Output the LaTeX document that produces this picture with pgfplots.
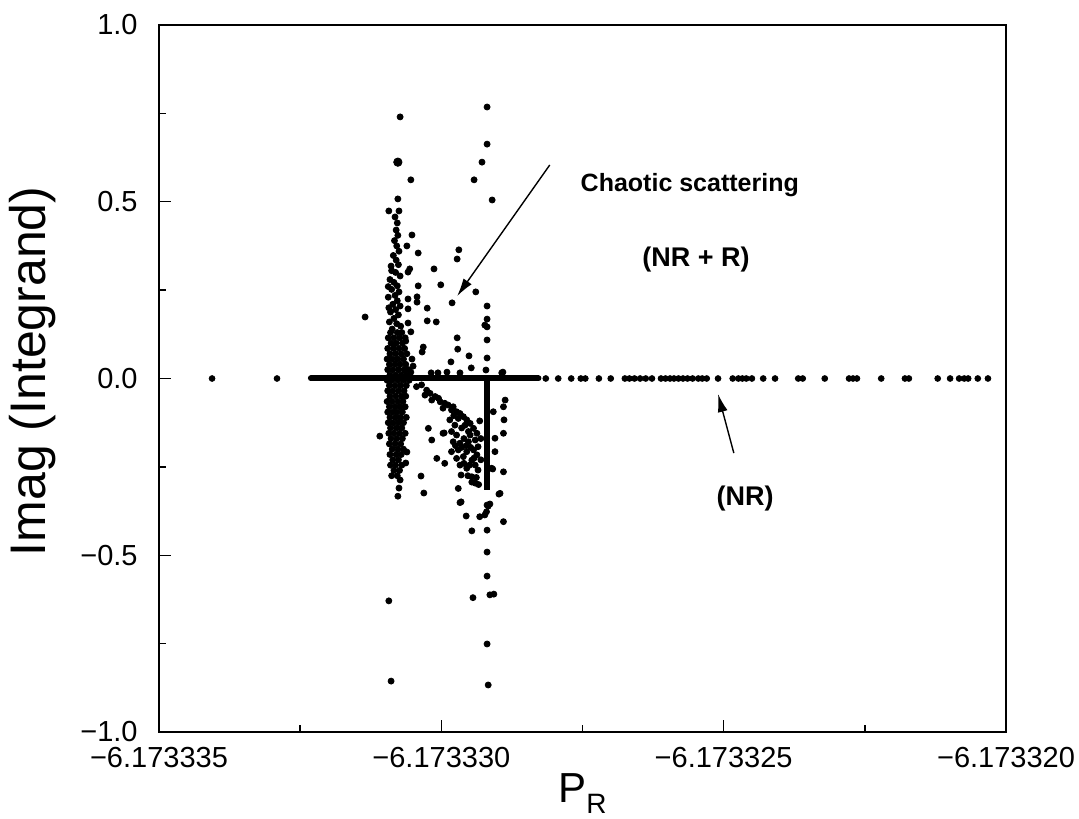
\documentclass[border=0pt]{standalone}
\usepackage{pgfplots}
\pgfplotsset{compat=1.18}
\usepackage{pgfplotstable}
\usetikzlibrary{arrows.meta}
\usepackage{fontspec}
\setmainfont{Liberation Sans}

% x is given as (P_R + 6.173335) * 1e6
\pgfplotstableread{
x y
0.94 0
2.09 0
6.85 0
7.07 0
7.30 0
7.47 0
7.55 0
7.79 0
8.00 0
8.25 0
8.33 0
8.42 0
8.52 0
8.62 0
8.73 0
8.89 0
8.97 0
9.05 0
9.12 0
9.20 0
9.28 0
9.36 0
9.45 0
9.55 0
9.62 0
9.70 0
9.90 0
10.16 0
10.26 0
10.33 0
10.40 0
10.50 0
10.70 0
10.91 0
11.32 0
11.40 0
11.79 0
12.22 0
12.29 0
12.36 0
12.79 0
13.21 0
13.28 0
13.79 0
14.01 0
14.17 0
14.26 0
14.33 0
14.50 0
14.68 0
}\lineNR

\pgfplotstableread{
x y
4.27 0.740
4.46 0.562
4.23 0.508
4.07 0.474
4.25 0.474
4.18 0.457
4.22 0.440
4.20 0.420
4.23 0.405
4.17 0.390
4.21 0.375
4.25 0.360
4.15 0.348
4.20 0.335
4.24 0.322
4.11 0.318
4.12 0.305
4.19 0.300
4.27 0.290
4.09 0.280
4.16 0.272
4.22 0.262
4.06 0.260
4.12 0.252
4.25 0.245
4.18 0.235
4.06 0.230
4.22 0.220
4.14 0.210
4.27 0.205
4.07 0.200
4.19 0.195
4.10 0.188
4.24 0.180
4.16 0.170
4.08 0.160
4.21 0.155
4.28 0.148
4.13 0.140
4.10 0.130
4.22 0.130
4.30 0.130
4.06 0.115
4.16 0.115
4.26 0.115
4.36 0.115
4.11 0.100
4.20 0.100
4.31 0.100
4.05 0.085
4.15 0.085
4.25 0.085
4.35 0.085
4.09 0.070
4.19 0.070
4.29 0.070
4.39 0.070
4.04 0.055
4.13 0.055
4.23 0.055
4.33 0.055
4.08 0.040
4.18 0.040
4.27 0.040
4.37 0.040
4.05 0.025
4.14 0.025
4.24 0.025
4.34 0.025
4.42 0.025
4.09 0.010
4.19 0.010
4.29 0.010
4.39 0.010
4.04 -0.005
4.13 -0.005
4.23 -0.005
4.33 -0.005
4.43 -0.005
4.08 -0.020
4.18 -0.020
4.28 -0.020
4.38 -0.020
4.05 -0.035
4.14 -0.035
4.24 -0.035
4.34 -0.035
4.09 -0.050
4.19 -0.050
4.29 -0.050
4.37 -0.050
4.04 -0.065
4.13 -0.065
4.23 -0.065
4.32 -0.065
4.08 -0.080
4.18 -0.080
4.27 -0.080
4.36 -0.080
4.05 -0.095
4.14 -0.095
4.22 -0.095
4.31 -0.095
4.09 -0.110
4.19 -0.110
4.28 -0.110
4.38 -0.110
4.06 -0.125
4.15 -0.125
4.24 -0.125
4.33 -0.125
4.10 -0.140
4.20 -0.140
4.30 -0.140
4.07 -0.155
4.16 -0.155
4.26 -0.155
4.36 -0.155
4.11 -0.170
4.21 -0.170
4.31 -0.170
4.08 -0.185
4.18 -0.185
4.28 -0.185
4.13 -0.200
4.23 -0.200
4.33 -0.200
4.09 -0.215
4.20 -0.215
4.29 -0.215
4.14 -0.230
4.24 -0.230
4.10 -0.245
4.19 -0.245
4.30 -0.245
4.16 -0.260
4.26 -0.260
4.12 -0.275
4.22 -0.275
4.27 -0.287
4.25 -0.310
4.23 -0.333
4.39 -0.208
4.37 -0.239
4.64 -0.276
4.69 -0.324
3.91 -0.163
3.65 0.174
4.07 -0.629
4.11 -0.856
4.48 0.406
4.39 0.375
4.59 0.355
4.44 0.310
4.41 0.301
4.59 0.262
4.57 0.231
4.57 0.216
4.41 0.225
4.75 0.199
4.41 0.197
4.75 0.163
4.91 0.160
4.41 0.157
4.46 0.132
4.37 0.106
4.68 0.089
4.66 0.075
4.48 0.055
4.50 0.035
4.46 0.018
4.87 0.310
4.99 0.265
5.31 0.364
5.28 0.338
5.19 0.214
5.61 0.245
5.28 0.115
5.29 0.083
5.49 0.064
5.17 0.047
5.53 0.030
4.82 0.016
4.94 0.016
5.10 0.018
5.33 0.016
6.09 0.018
6.07 0.016
5.81 0.768
5.81 0.663
5.72 0.612
5.58 0.562
5.90 0.505
5.81 0.205
5.81 0.168
5.77 0.151
5.81 0.146
5.81 0.109
5.81 0.058
5.79 0.024
4.56 -0.023
4.65 -0.018
4.74 -0.033
4.71 -0.047
4.80 -0.042
4.89 -0.051
4.83 -0.061
4.98 -0.066
4.95 -0.056
5.06 -0.070
5.12 -0.075
5.03 -0.084
5.21 -0.080
5.27 -0.094
5.18 -0.089
5.33 -0.099
5.39 -0.108
5.30 -0.113
5.45 -0.117
5.51 -0.127
5.42 -0.132
5.57 -0.141
5.63 -0.155
5.51 -0.160
5.60 -0.174
5.48 -0.179
5.65 -0.193
5.57 -0.202
5.45 -0.207
5.63 -0.216
5.54 -0.231
5.15 -0.117
5.24 -0.132
5.18 -0.150
5.27 -0.160
5.21 -0.179
5.33 -0.183
5.30 -0.202
5.39 -0.221
5.27 -0.226
5.33 -0.245
5.45 -0.254
5.60 -0.245
5.65 -0.259
5.35 -0.273
5.54 -0.278
5.60 -0.296
5.18 -0.207
5.06 -0.240
4.77 -0.141
4.83 -0.174
4.92 -0.226
5.05 -0.154
5.03 -0.155
5.22 -0.105
5.36 -0.140
5.40 -0.170
5.48 -0.150
5.44 -0.190
5.52 -0.195
5.36 -0.195
5.25 -0.190
5.50 -0.245
5.40 -0.240
5.58 -0.225
5.47 -0.275
5.62 -0.280
5.68 -0.120
5.70 -0.170
5.70 -0.230
5.66 -0.300
5.30 -0.311
5.33 -0.351
5.44 -0.389
5.68 -0.391
5.83 -0.361
5.80 -0.377
5.54 -0.431
5.54 -0.293
5.35 -0.349
5.81 -0.358
5.86 -0.355
5.77 -0.386
5.81 -0.429
5.81 -0.491
5.81 -0.559
5.56 -0.620
5.86 -0.612
5.93 -0.610
5.81 -0.751
5.83 -0.867
6.13 -0.061
6.10 -0.080
6.11 -0.117
6.10 -0.155
5.95 -0.169
6.10 -0.264
6.04 -0.325
6.10 -0.405
5.92 -0.094
5.95 -0.207
5.89 -0.254
6.02 -0.327
5.91 -0.256
}\scatterNRR

\begin{document}
\begin{tikzpicture}
\begin{axis}[
  name=ax,
  scale only axis,
  width=423.5pt, height=353.5pt,
  xmin=0, xmax=15, ymin=-1, ymax=1,
  axis line style={line width=1pt},
  tick pos=left,
  tick align=inside,
  xtick={0,5,10,15},
  xticklabels={−6.173335,−6.173330,−6.173325,−6.173320},
  minor xtick={2.5,7.5,12.5},
  ytick={-1,-0.5,0,0.5,1},
  yticklabels={−1.0,−0.5,0.0,0.5,1.0},
  minor ytick={-0.75,-0.25,0.25,0.75},
  major tick length=6pt,
  minor tick length=3.5pt,
  every tick/.style={black, line width=0.7pt},
  xticklabel style={font=\fontsize{14.5}{16}\selectfont, inner sep=1pt, yshift=-6.5pt},
  yticklabel style={font=\fontsize{14.5}{16}\selectfont, inner sep=1pt, xshift=-9.5pt},
  clip=false,
]
\addplot[black, line width=3pt, line cap=round] coordinates {(2.69,0) (6.72,0)};
\addplot[black, line width=3pt] coordinates {(5.81,0) (5.81,-0.315)};
\addplot[only marks, mark=*, mark size=1.45pt, black] table {\lineNR};
\addplot[only marks, mark=*, mark size=1.5pt, black] table {\scatterNRR};
\addplot[only marks, mark=*, mark size=2.1pt, black] coordinates {(4.23,0.612)};

\draw[-{Latex[length=9pt,width=5pt]}, line width=0.7pt] (axis cs:6.92,0.604) -- (axis cs:5.28,0.233);
\draw[-{Latex[length=9pt,width=5pt]}, line width=0.7pt] (axis cs:10.18,-0.211) -- (axis cs:9.90,-0.044);
\node[anchor=base, font=\bfseries\fontsize{12.5}{15}\selectfont] at (axis cs:9.40,0.530) {Chaotic scattering};
\node[anchor=base, font=\bfseries\fontsize{13.5}{15}\selectfont] at (axis cs:9.51,0.318) {(NR + R)};
\node[anchor=base, font=\bfseries\fontsize{13.5}{15}\selectfont] at (axis cs:10.38,-0.358) {(NR)};

\node[rotate=90, anchor=center, font=\fontsize{25}{30}\selectfont] at ([xshift=-63pt]axis description cs:0,0.51) {Imag (Integrand)};
\node[anchor=base, inner sep=1pt, font=\fontsize{21}{25}\selectfont] at ([yshift=-35pt]axis description cs:0.5,0) {P\raisebox{-0.28em}{\fontsize{14}{14}\selectfont R}};
\end{axis}
\pgfresetboundingbox
\path[use as bounding box] ([shift={(-79.5pt,-43pt)}]ax.south west) rectangle ([shift={(36.5pt,12.5pt)}]ax.north east);
\end{tikzpicture}
\end{document}
